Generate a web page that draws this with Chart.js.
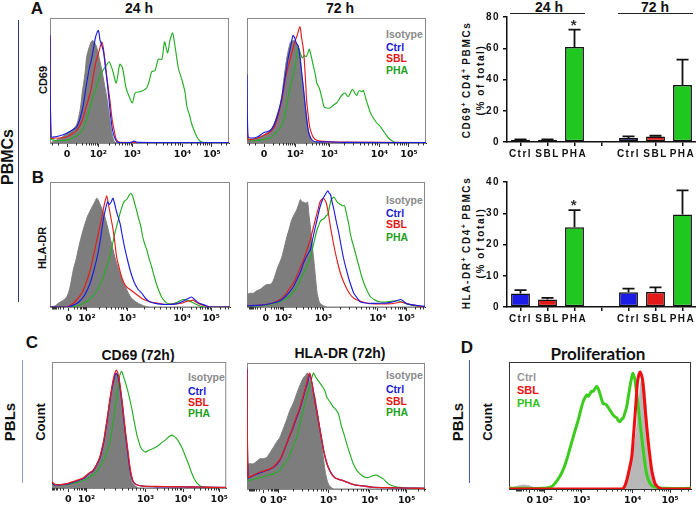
<!DOCTYPE html>
<html><head><meta charset="utf-8">
<script src="https://cdn.jsdelivr.net/npm/chart.js@4.4.0/dist/chart.umd.min.js"></script>
<style>
body{margin:0;width:696px;height:506px;position:relative;background:#fff;overflow:hidden;font-family:"Liberation Sans",Arial,sans-serif;color:#111;}
canvas{position:absolute;}
.t{position:absolute;white-space:nowrap;font-weight:bold;line-height:1;}
.c{transform:translate(-50%,-50%);}
.r{transform:translate(-50%,-50%) rotate(-90deg);}
.l{transform:translateY(-50%);font-size:10.5px;}
.ln{position:absolute;width:1px;}
.ax{font-size:10px;letter-spacing:1.6px;}
.ax sup{font-size:7px;vertical-align:4px;letter-spacing:0;}
</style></head><body>

<div class="t c" style="left:37px;top:8px;font-size:17px">A</div>
<div class="t c" style="left:139px;top:8px;font-size:14px">24 h</div>
<div class="t c" style="left:340px;top:8px;font-size:14px">72 h</div>
<div class="t c" style="left:549px;top:7px;font-size:14px">24 h</div>
<div class="t c" style="left:655px;top:7px;font-size:14px">72 h</div>
<div class="t r" style="left:43px;top:80px;font-size:11px">CD69</div>
<div class="t r" style="left:8px;top:157px;font-size:16px">PBMCs</div>
<div class="ln" style="left:18px;top:20px;height:282px;background:#2c3d6e"></div>
<div class="t r ax" style="left:466px;top:80px">CD69<sup>+</sup> CD4<sup>+</sup> PBMCs</div>
<div class="t r ax" style="left:481px;top:80px">(% of total)</div>

<div class="t c" style="left:38px;top:177px;font-size:17px">B</div>
<div class="t r" style="left:42px;top:248px;font-size:11px">HLA-DR</div>
<div class="t r ax" style="left:466px;top:243px">HLA-DR<sup>+</sup> CD4<sup>+</sup> PBMCs</div>
<div class="t r ax" style="left:481px;top:243px">(% of total)</div>

<div class="t c" style="left:32px;top:342px;font-size:17px">C</div>
<div class="t c" style="left:138px;top:355px;font-size:14px">CD69 (72h)</div>
<div class="t c" style="left:340px;top:353px;font-size:14px">HLA-DR (72h)</div>
<div class="t r" style="left:40px;top:422px;font-size:13px">Count</div>
<div class="t r" style="left:9px;top:422px;font-size:15px">PBLs</div>
<div class="ln" style="left:22px;top:360px;height:123px;background:#8fa0c8"></div>

<div class="t c" style="left:467px;top:347px;font-size:17px">D</div>
<div class="t c" style="left:598px;top:353px;font-size:17px;font-family:Lato,'Open Sans',sans-serif">Proliferation</div>
<div class="t r" style="left:487px;top:422px;font-size:13px">Count</div>
<div class="t r" style="left:457px;top:422px;font-size:15px">PBLs</div>
<div class="ln" style="left:469px;top:360px;height:123px;background:#4060b8"></div>

<div class="t l" style="left:386px;top:34px;color:#8a8a8a">Isotype</div>
<div class="t l" style="left:386px;top:47px;color:#1a1ad0">Ctrl</div>
<div class="t l" style="left:386px;top:58px;color:#e01818">SBL</div>
<div class="t l" style="left:386px;top:70px;color:#22a022">PHA</div>

<div class="t l" style="left:386px;top:200px;color:#8a8a8a">Isotype</div>
<div class="t l" style="left:386px;top:213px;color:#1a1ad0">Ctrl</div>
<div class="t l" style="left:386px;top:224px;color:#e01818">SBL</div>
<div class="t l" style="left:386px;top:237px;color:#22a022">PHA</div>

<div class="t l" style="left:188px;top:377px;color:#8a8a8a">Isotype</div>
<div class="t l" style="left:188px;top:391px;color:#1a1ad0">Ctrl</div>
<div class="t l" style="left:188px;top:402px;color:#e01818">SBL</div>
<div class="t l" style="left:188px;top:413px;color:#22a022">PHA</div>

<div class="t l" style="left:386px;top:375px;color:#8a8a8a">Isotype</div>
<div class="t l" style="left:386px;top:389px;color:#1a1ad0">Ctrl</div>
<div class="t l" style="left:386px;top:401px;color:#e01818">SBL</div>
<div class="t l" style="left:386px;top:412px;color:#22a022">PHA</div>

<div class="t l" style="left:517px;top:377px;color:#999;font-size:11px">Ctrl</div>
<div class="t l" style="left:517px;top:390px;color:#ee1111;font-size:11px">SBL</div>
<div class="t l" style="left:517px;top:403px;color:#33c020;font-size:11px">PHA</div>

<script>
// ---------- tick labels and positions (display channel 0..100) ----------
const tickLabels = ['0','10²','10³','10⁴','10⁵'];
const ticksA  = [9.5,27,46,74,90.5];
const ticksB  = [10.5,20.5,43,73.5,89.5];
const ticksC1 = [9.4,19.8,53.7,75.3,96];
const ticksC2 = [9.2,17.6,45.7,69,89.7];
const ticksD  = [11.5,19.4,40,68,88.5];

// ---------- histograms: [channel, % of max] ----------
const a1Iso = [[0,0],[3,2],[6,4],[9.5,8],[12,10],[15,15],[17,28],[18,40],[19.5,55],[20.5,69],[22,77],[23,81],[24,82],[25,80],[26,77],[27.5,68],[29,58],[30.5,46],[32,34],[33.5,18],[34.6,8],[36,1],[38,0],[100,0]];
const a1Ctrl = [[0,86],[0.6,5],[3,5],[6,6],[9.5,8],[12,10],[15,13],[18,26],[20.5,48],[22,60],[23.5,69],[25.5,85],[27,90],[28,82],[29,78],[30,72],[31,60],[32,48],[33,34],[34,20],[35,10],[36.5,3],[38,0.5],[45,0.5],[47,1.5],[49,0.5],[100,0.3]];
const a1Sbl = [[0,86],[0.6,4],[3,4],[6,4],[9.5,5],[12,7],[15,10],[18,18],[20,28],[22.5,40],[24,52],[25.5,64],[27.5,74],[29,81],[30,74],[31,62],[32,50],[33.5,34],[34.6,20],[36,9],[37,3],[39,0.5],[100,0.3]];
const a1Pha = [[0,10],[0.6,3],[5,2],[10,2.5],[14,5],[17,8],[20,17],[22.5,29],[24,37],[26,45],[27.5,52],[29,57],[31,61],[33,65],[35,58],[37,48],[39,63],[40.5,60],[42.5,44],[44,38],[46,32],[47.5,40],[50,41],[52,42],[54,44],[55.5,50],[56.8,57],[58.7,58],[60.5,67],[62.5,67],[64,81],[65.7,72],[67,82],[68.5,88],[70,76],[71.7,60],[74,49],[75.5,40],[76.5,29],[78,22],[79,16],[80.5,10],[82,5],[83.5,2],[85,0.5],[100,0.3]];

const a2Iso = [[0,3],[3,3],[6,4],[9,6],[11,8],[13,10],[15,15],[16.5,21],[18,28],[19.4,37],[20.5,50],[22,66],[23.2,75],[24.4,81],[26.3,82],[27.5,80],[28.7,77],[29.7,68],[30.5,56],[31.5,44],[32.4,32],[33.4,20],[34.3,10],[35.5,4],[37,0.5],[100,0]];
const a2Ctrl = [[0,55],[0.6,5],[3,4],[6,5],[9,8],[11,9],[13,10],[15,14],[17,22],[19,33],[21,50],[23,68],[24.5,78],[25.7,86],[26.7,84],[27.5,80],[28.5,78],[29.5,70],[30.5,57],[31.5,44],[32.5,30],[33.5,17],[34.5,8],[36,3],[38,1],[45,1],[55,0.5],[100,0.3]];
const a2Sbl = [[0,20],[0.6,3],[3,3],[6,4],[9,6],[12,8],[15,12],[17,20],[19.4,34],[21.5,52],[23,61],[25,72],[26.7,81],[28,86],[29.6,93],[30.5,84],[31.6,74],[32.5,55],[33.3,34],[34.2,22],[35,13],[36.5,6],[38,3],[41,1.5],[50,0.8],[100,0.3]];
const a2Pha = [[0,8],[0.6,3],[5,2],[10,3],[13,4],[16,8],[18,11],[20,16],[21.5,25],[23,37],[24.5,47],[26,56],[27.5,67],[28.7,76],[30,71],[31,68],[32,70],[33,69],[34,72],[34.8,75],[35.8,70],[36.7,64],[38,56],[39,48],[40,45],[40.8,42],[42,35],[43,29],[44.5,28],[46.4,28],[48,30],[50,32],[51.5,35],[52.3,37],[53.5,39],[54.7,40],[56.6,37],[58,41],[59,43],[60.2,40],[61.3,38],[62.2,41],[63,42],[64,41],[65,42],[66.5,35],[67.8,29],[69,24],[70.6,20],[72.5,16],[74,14],[75.5,11],[77,8],[79,4],[80.8,2],[83,0.5],[100,0.3]];

const b1Iso = [[0,0],[3,1],[4.6,3],[7,5],[9.3,8],[11,15],[13,30],[14.5,38],[15.7,46],[17,54],[18.5,62],[20.7,72],[22,76],[23,79],[24.5,83],[26,87],[27,85],[27.8,82],[29,78],[30.5,72],[32,64],[33.3,56],[34.7,48],[36,40],[37.5,33],[38.9,27],[40.7,20],[42.6,14],[44.3,9],[46,6],[49,3],[52,1],[55,0],[100,0]];
const b1Sbl = [[0,0],[9,0],[12,2],[15,6],[18,12],[20,19],[22,28],[24,40],[25.5,50],[26.9,59],[28.2,68],[29.6,78],[30.5,84],[31.5,89],[32.2,84],[33,78],[34,70],[34.8,64],[36,52],[37,40],[38.5,31],[39.8,24],[41.2,19],[42.6,16],[44.5,14],[46.3,12],[49,9],[52,6],[56,4],[60,3],[65,2],[70,2.5],[73,3],[76,4.5],[78,5],[79.6,5.5],[81,4],[83,2.5],[86,1],[89,0],[100,0]];
const b1Ctrl = [[0,0],[10,0],[13,1.5],[16,4],[19,9],[22,18],[24.5,30],[26.5,42],[28,54],[29.6,70],[30.8,78],[32,84],[33,82],[34,84],[35,87],[36,82],[37,76],[38.9,67],[40.3,56],[41.7,46],[43,38],[44.4,30],[45.7,24],[47,19],[49,14],[51,11],[53,7],[55.6,4],[60,2.5],[65,2],[70,2.5],[73,4],[75,5.5],[77,7],[78.7,8],[80,6.5],[81.5,4.5],[83,3],[86,1.5],[89,0],[100,0]];
const b1Pha = [[0,0],[11,0],[15,1],[18.5,3],[22,6],[26,13],[28.5,20],[31.5,32],[33.5,42],[35,52],[36,59],[37.5,67],[38.9,75],[40,80],[40.7,83],[41.5,85],[42.6,86],[43.8,89],[44.8,91],[45.5,90],[46.3,87],[47,83],[48,78],[49,72],[50,67],[50.8,62],[51.5,56],[52.5,51],[53.7,46],[55,39],[56.5,32],[57.8,25],[59,19],[60.5,13],[62,8],[63.5,5],[65,3],[68,2.5],[71,4],[74,6],[76,5.5],[78,4.5],[80,3],[83,1],[86,0],[100,0]];

const b2Iso = [[0,10],[1.5,11],[3.6,11],[5.5,13],[7.3,14],[9,16],[11,18],[12.5,18],[14,19],[15.5,24],[16.8,30],[18.2,35],[19.6,40],[21,48],[22.4,56],[23.8,63],[25.2,70],[26.6,74],[28,78],[29,82],[30,86],[30.8,84],[31.8,84],[33,83],[34,84],[34.8,74],[35.6,64],[36.5,51],[37.5,38],[38.4,25],[39.4,11],[40.2,6],[41,3],[43,1],[45,0],[100,0]];
const b2Sbl = [[0,1],[8,1.5],[14,3],[18.6,6],[22,11],[24,15],[26,19],[28,25],[30,32],[31.8,38],[33.5,45],[35.6,54],[37,62],[38.4,70],[39.7,77],[41,84],[42,86],[43,87],[44,85],[44.6,83],[45.7,75],[46.9,64],[48.3,53],[49.7,43],[51,35],[52.5,27],[54.3,20],[56.3,14],[58,10],[60,7],[63,5],[67.6,3],[72,2.5],[79,2.5],[83,3],[86.4,4],[89,3],[92,2],[94,1.5],[97,0.5],[100,0]];
const b2Ctrl = [[0,1],[8,1.5],[14,3],[18.6,5],[22,9],[26,16],[28,22],[30,28],[32,36],[34,42],[35.6,46],[37,55],[38.4,64],[39.7,72],[41,80],[42.5,86],[44,90],[45.4,93],[46.2,91],[46.9,90],[47.8,84],[48.8,78],[50.2,68],[51.6,59],[53,48],[54.4,38],[55.8,30],[57.3,22],[58.7,16],[60,11],[62,7],[63.8,4],[68,3],[75,3],[80,3.5],[84,5],[86.4,6],[88,4.5],[90,2.5],[94,1.5],[97,1],[100,0.5]];
const b2Pha = [[0,0.5],[8,1],[13,2],[18,4],[22.4,7],[26,12],[28,16],[30,22],[32.5,29],[35.6,40],[37.5,51],[39.4,62],[40.2,65],[41,68],[42.2,70],[43.5,71],[44.5,73],[45.4,74],[46.3,80],[47.3,86],[48,87],[48.8,88],[49.8,86],[50.6,84],[51.5,83],[52.5,82],[53.6,81],[54.8,81],[55.5,77],[56.3,72],[57.2,66],[58,59],[59,53],[60,48],[61.5,40],[63,32],[64.3,25],[65.7,19],[67.5,13],[69.5,8],[72,5.5],[75,4],[78,4],[81,4.5],[84.5,5],[87,4],[90,2.5],[94,1],[97,0.5],[100,0]];

const c1Iso = [[0,2],[4,2.5],[8.5,3],[13,5],[18,7],[21,10],[23.5,12.5],[25.5,17],[27.3,22],[28.8,30],[30,38],[31,47],[32,56],[33,66],[34,75],[35,82],[35.8,88],[37,91],[37.8,88],[38.6,83],[39.5,73],[40.5,62],[41.5,50],[42.4,38],[43.5,26],[44.6,14],[45.3,8],[46,4],[48,1.5],[50,0],[100,0]];
const c1Ctrl = [[0,4],[1.5,2.5],[4,2.5],[8.5,3],[13,5],[18,7.5],[21,11],[23.5,13.5],[25.5,18],[27.3,23],[28.8,31],[30,39],[31,48],[32,57],[33,67],[34,76],[35,83],[36,89],[37,91],[37.8,89],[38.6,84],[39.5,75],[40.5,64],[41.5,51],[42.4,40],[43.5,28],[44.6,16],[45.6,9],[46.5,5],[48,3],[52,1.5],[60,1],[70,1],[80,0.8],[90,0.5],[100,0.3]];
const c1Sbl = [[0,5],[1.5,3],[4,2.5],[8.5,3.5],[13,5.5],[18,8],[21,11.5],[23.5,14],[25.5,18.5],[27.3,24],[28.8,32],[30,40],[31,49],[32,58],[33,68],[34,77],[35,85],[36,91],[37,93.5],[37.8,91],[38.6,86],[39.5,77],[40.5,66],[41.5,53],[42.4,42],[43.5,30],[44.6,18],[45.6,10],[46.5,5.5],[48,3],[52,1.5],[60,1.2],[70,1],[80,0.8],[90,0.6],[100,0.4]];
const c1Pha = [[0,3],[4,2.5],[9,3],[13,4],[18,6],[22,9],[25,12],[27.3,16.5],[29.5,22],[31.5,29],[33,35],[34.5,47],[35.8,59],[36.8,69],[37.7,78],[38.5,85],[39,90],[40,92.5],[40.7,90],[41.4,87],[42.3,83],[43.3,78],[44.2,73],[45.2,67],[46.1,61],[47,54],[48,47],[49,40.5],[50,36],[50.8,32.5],[52,30],[53.7,28.5],[55.5,30],[57.4,31],[59,32],[61.2,34],[63,36],[65,38],[66.9,40.5],[68.7,42],[70,41],[71.6,39],[73,36],[74.4,32.5],[75.8,28],[77.2,23],[78.6,18],[80,12.5],[81.8,7],[83.8,3],[86,1],[90,0.5],[100,0.3]];

const c2Iso = [[0,20],[1.5,20],[3.6,20],[5.5,22],[7.3,24],[9,24],[11,25],[13,29],[14.8,33],[16.5,37],[18.5,41],[20.4,48],[22.3,55],[24,62],[26,68],[27.5,74],[28.8,79],[30.2,84],[31.6,88],[32.8,90],[33.9,92],[35,87],[36.3,81],[37.2,77],[38.2,73],[39,66],[40,57],[41,47],[42,36],[42.9,25],[43.8,15],[44.8,8],[45.7,4],[47,1.5],[49,0],[100,0]];
const c2Ctrl = [[0,95],[0.6,9],[3.6,10.7],[7.3,13],[11,14.7],[14.8,17],[18.5,23],[20.4,29],[22.3,36],[24.2,43],[26,49],[27.4,55],[28.8,60],[30.2,66],[31.6,73],[32.8,79],[33.9,84],[35.4,91],[36.2,86],[37,80],[38,71],[39,63],[40,55],[41,47],[42,39],[43,31],[44.3,23],[45.7,17],[47.5,12],[49.4,9],[52,7.5],[54,6.7],[57,5],[60,3.5],[65,2.5],[70,1.5],[80,1],[90,0.7],[100,0.5]];
const c2Sbl = [[0,95],[0.6,9.5],[3.6,11],[7.3,13.5],[11,15],[14.8,17.5],[18.5,23.5],[20.4,29],[22.3,36],[24.2,43],[26,50],[27.4,56],[28.8,61],[30.2,67],[31.6,74],[32.8,80],[33.9,86],[35,92],[36,87],[37,80],[38,71],[39,63],[40,55],[41,47],[42,39],[43,31],[44.3,23],[45.7,17],[47.5,12],[49.4,9],[52,7.5],[54,6.7],[57,5],[60,3.5],[65,2.5],[70,1.5],[80,1],[90,0.7],[100,0.5]];
const c2Pha = [[0,95],[0.6,6.7],[3,7.5],[7.3,9],[11,10.5],[14.8,12],[18.5,15],[20,18],[22.3,22],[24.5,29],[26.2,35],[28,41],[29.5,50],[31,59],[32.6,68],[33.8,75],[35,81],[36.2,87],[37.3,92],[38.2,90],[39,88],[40,86],[41,84],[42,82],[43,80],[44,77],[44.8,73],[46.2,70],[47.6,67],[48.5,65],[49.4,64],[50.4,62],[51.3,60],[52.2,55],[53.2,49],[54.6,43],[56,36],[57.8,28],[59.7,20],[61.6,15],[63.5,12],[65.4,10],[67.2,9],[69,9.5],[71,10.7],[72.7,11],[74.3,10],[75.5,9],[76.6,8],[78.3,5.5],[80,3.5],[83,2],[86,1.3],[90,0.7],[95,0.5],[100,0.5]];

const dCtrl = [[0,0.5],[2,1],[4,2],[7,3],[9,3],[11,2.5],[13,1.5],[16,0.5],[19,0],[62,0],[63,1],[64.3,4],[65.5,10],[66.8,17],[68,25],[69,35],[70,46],[70.6,56],[71.3,65],[71.8,74],[72.3,83],[72.8,86],[73.4,88],[74,84],[74.7,78],[75.3,66],[76,52],[76.8,38],[77.5,25],[78.4,16],[79.3,10],[80.5,5],[82,2],[84,0.5],[86,0],[100,0]];
const dSbl = [[0,0],[62,0],[63.5,2],[64.7,7],[66,15],[67.4,25],[68.3,40],[69.2,57],[69.9,71],[70.5,83],[71.2,89],[72,92],[72.7,90],[73.4,86],[74,77],[74.7,65],[75.6,50],[76.6,36],[77.5,25],[78.4,15],[79.3,9],[80.2,4.5],[81.5,2],[83,0.5],[85,0],[100,0]];
const dPha = [[0,0.5],[10,0.5],[18,0.5],[22.5,1.3],[25,4],[28,10],[30,16],[31.7,23],[33.5,32],[35.3,41],[36.7,48],[38,54],[39.4,62],[40.8,69],[41.8,72],[42.7,74],[43.6,73],[44.5,75],[45.4,77],[46.3,77],[47.2,79],[48.2,81],[49,79],[50,75],[51,70],[51.8,67],[52.7,67],[53.7,66],[54.6,64],[55.5,62],[56.4,60],[57.3,58],[58.2,57],[59.2,56],[60,54],[61,53],[61.9,55],[62.8,56],[63.7,60],[64.7,65],[65.6,73],[66.5,81],[67.3,87],[68,91],[68.6,89],[69.2,86],[70,77],[71,65],[72,52],[72.9,41],[73.8,30],[74.7,20],[75.6,12],[76.6,7],[78,3.5],[79.3,2],[82,1],[86,0.5],[100,0.5]];

// ---------- bar charts ----------
const barCats = ['Ctrl','SBL','PHA','','Ctrl','SBL','PHA'];
const cd69Mean = [1.5,1.5,60.8,null,2.6,3.6,36.5];
const cd69Err  = [0.2,0.2,11.1,null,1.0,0.4,16.2];
const hlaMean  = [4.3,2.4,25.5,null,4.7,4.8,29.6];
const hlaErr   = [1.1,0.5,5.5,null,1.2,1.5,7.7];

const FONT = '"Liberation Sans", Arial, sans-serif';
const TICKFONT = '"DejaVu Sans", "Liberation Sans", sans-serif';
const COL = {iso:'#7d7d7d', ctrl:'#1c1ce0', sbl:'#e41c1c', pha:'#26ad26'};
const barColors = ['#1c1ce6','#e41a1a','#1ec81e',null,'#1c1ce6','#e41a1a','#1ec81e'];

const framePlugin = {
  id:'frame',
  beforeDatasetsDraw(ch, a, o){
    const {ctx, chartArea:c} = ch;
    ctx.save(); ctx.strokeStyle = o.color || '#777'; ctx.lineWidth = 1;
    ctx.strokeRect(c.left+0.5, c.top+0.5, c.right-c.left-1, c.bottom-c.top);
    ctx.restore();
  },
  afterDraw(ch, a, o){
    const {ctx, chartArea:c} = ch; const x = ch.scales.x; const t = o.ticks;
    ctx.save(); ctx.strokeStyle = '#333'; ctx.lineWidth = 1; ctx.beginPath();
    const mk = v => { if (v < 0 || v > 100) return; const px = Math.round(x.getPixelForValue(v))+0.5; ctx.moveTo(px, c.bottom); ctx.lineTo(px, c.bottom+2.5); };
    for (let i = 0; i < t.length-1; i++) {
      for (let k = 2; k < 10; k++) mk(t[i] + (t[i+1]-t[i])*Math.log10(k));
    }
    const d = t[t.length-1]-t[t.length-2];
    for (let k = 2; k < 10; k++) mk(t[t.length-1] + d*Math.log10(k));
    const d0 = t[1]-t[0];
    for (let k = 2; k < 10; k++) mk(t[0] - d0*Math.log10(k));
    ctx.stroke(); ctx.restore();
  }
};

function hist(left, top, w, h, ticks, sets, frameColor){
  const AX = 18;
  const cv = document.createElement('canvas');
  cv.width = w+2; cv.height = h+1+AX;
  cv.style.left = (left-1)+'px'; cv.style.top = (top-1)+'px';
  document.body.appendChild(cv);
  new Chart(cv, {
    type:'line',
    data:{datasets: sets.map(s => ({
      data: s.pts.map(p => ({x:p[0], y:p[1]})),
      borderColor: s.c, backgroundColor: s.fill || 'rgba(0,0,0,0)',
      fill: s.fill ? 'origin' : false, borderWidth: s.bw, pointRadius: 0, tension: 0.25
    }))},
    options:{
      responsive:false, animation:false, devicePixelRatio:1, events:[],
      layout:{padding:{left:1,right:1,top:1,bottom:0}},
      plugins:{legend:{display:false}, tooltip:{enabled:false}, frame:{color:frameColor, ticks}},
      scales:{
        x:{type:'linear', min:0, max:100,
           afterBuildTicks: s => { s.ticks = ticks.map(v => ({value:v})); },
           ticks:{callback:(v,i)=>tickLabels[i], autoSkip:false, maxRotation:0, padding:2,
                  font:{family:TICKFONT, size:9.5, weight:'bold'}, color:'#111'},
           grid:{drawOnChartArea:false, tickLength:4, color:'#333'},
           border:{color:'#333', width:1},
           afterFit: s => { s.height = AX; }},
        y:{display:false, min:0, max:100}
      }
    },
    plugins:[framePlugin]
  });
}

const thin = 1.15;
hist(50,18,179,125,ticksA,[
  {pts:a1Ctrl,c:COL.ctrl,bw:thin},{pts:a1Sbl,c:COL.sbl,bw:thin},{pts:a1Pha,c:COL.pha,bw:thin},
  {pts:a1Iso,c:COL.iso,bw:1,fill:COL.iso}],'#888');
hist(247,18,179,125,ticksA,[
  {pts:a2Ctrl,c:COL.ctrl,bw:thin},{pts:a2Sbl,c:COL.sbl,bw:thin},{pts:a2Pha,c:COL.pha,bw:thin},
  {pts:a2Iso,c:COL.iso,bw:1,fill:COL.iso}],'#888');
hist(50,182,180,125,ticksB,[
  {pts:b1Ctrl,c:COL.ctrl,bw:thin},{pts:b1Sbl,c:COL.sbl,bw:thin},{pts:b1Pha,c:COL.pha,bw:thin},
  {pts:b1Iso,c:COL.iso,bw:1,fill:COL.iso}],'#888');
hist(247,182,178,125,ticksB,[
  {pts:b2Ctrl,c:COL.ctrl,bw:thin},{pts:b2Sbl,c:COL.sbl,bw:thin},{pts:b2Pha,c:COL.pha,bw:thin},
  {pts:b2Iso,c:COL.iso,bw:1,fill:COL.iso}],'#888');
hist(52,362,177,126,ticksC1,[
  {pts:c1Sbl,c:COL.sbl,bw:1.3},{pts:c1Ctrl,c:COL.ctrl,bw:1.3},{pts:c1Pha,c:COL.pha,bw:thin},
  {pts:c1Iso,c:COL.iso,bw:1,fill:COL.iso}],'#888');
hist(247,363,178,126,ticksC2,[
  {pts:c2Sbl,c:COL.sbl,bw:1.3},{pts:c2Ctrl,c:COL.ctrl,bw:1.3},{pts:c2Pha,c:COL.pha,bw:thin},
  {pts:c2Iso,c:COL.iso,bw:1,fill:COL.iso}],'#888');
hist(509,362,182,127,ticksD,[
  {pts:dSbl,c:'#ee1010',bw:3},{pts:dPha,c:'#3ccc1e',bw:3},
  {pts:dCtrl,c:'#b8b8b8',bw:1,fill:'#b8b8b8'}],'#333');

const errPlugin = {
  id:'err',
  afterDatasetsDraw(ch, a, o){
    const {ctx} = ch; const meta = ch.getDatasetMeta(0); const y = ch.scales.y;
    ctx.save(); ctx.strokeStyle = '#111'; ctx.lineWidth = 1.8;
    o.means.forEach((m,i) => {
      if (m == null) return;
      const x = meta.data[i].x, y0 = y.getPixelForValue(m), y1 = y.getPixelForValue(m + o.errs[i]);
      ctx.beginPath(); ctx.moveTo(x, y0); ctx.lineTo(x, y1); ctx.moveTo(x-6, y1); ctx.lineTo(x+6, y1); ctx.stroke();
      if (i === o.star) {
        ctx.fillStyle = '#333'; ctx.font = 'bold 15px ' + FONT; ctx.textAlign = 'center'; ctx.textBaseline = 'alphabetic';
        ctx.fillText('*', x, y1);
      }
    });
    if (o.headers) {
      const xs = ch.scales.x, half = meta.data[0].width/2 + 1, yy = ch.chartArea.top - 3.5;
      ctx.lineWidth = 1; ctx.strokeStyle = '#222';
      [[0,2],[4,6]].forEach(([s,e]) => {
        ctx.beginPath(); ctx.moveTo(xs.getPixelForValue(s)-half, yy); ctx.lineTo(xs.getPixelForValue(e)+half, yy); ctx.stroke();
      });
    }
    ctx.restore();
  }
};
const spacing = {id:'spacing', beforeDraw(ch){ ch.ctx.letterSpacing = '1.5px'; }};

function bars(top, means, errs, yMax, step, headers){
  const cv = document.createElement('canvas');
  cv.width = 241; cv.height = 168; cv.style.left = '455px'; cv.style.top = top+'px';
  document.body.appendChild(cv);
  new Chart(cv, {
    type:'bar',
    data:{labels:barCats, datasets:[{data:means, backgroundColor:barColors, borderColor:'#111', borderWidth:1.5,
      borderSkipped:false, barPercentage:0.7, categoryPercentage:1}]},
    options:{
      responsive:false, animation:false, devicePixelRatio:1, events:[],
      layout:{padding:{top:17,right:0,left:0,bottom:0}},
      plugins:{legend:{display:false}, tooltip:{enabled:false}, err:{means, errs, star:2, headers}},
      scales:{
        x:{grid:{drawOnChartArea:false, offset:false, tickLength:4, color:'#111', lineWidth:1.5},
           border:{color:'#111', width:1.5},
           ticks:{font:{family:FONT,size:10,weight:'bold'}, color:'#111', padding:2, autoSkip:false, maxRotation:0},
           afterFit: s => { s.height = 26; }},
        y:{min:0, max:yMax, ticks:{stepSize:step, font:{family:FONT,size:10,weight:'bold'}, color:'#111', padding:3},
           grid:{drawOnChartArea:false, tickLength:4, color:'#111', lineWidth:1.5},
           border:{color:'#111', width:1.5},
           afterFit: s => { s.width = 52; }}
      }
    },
    plugins:[errPlugin, spacing]
  });
}
bars(0, cd69Mean, cd69Err, 80, 20, true);
bars(165, hlaMean, hlaErr, 40, 10, false);
</script>
</body></html>
